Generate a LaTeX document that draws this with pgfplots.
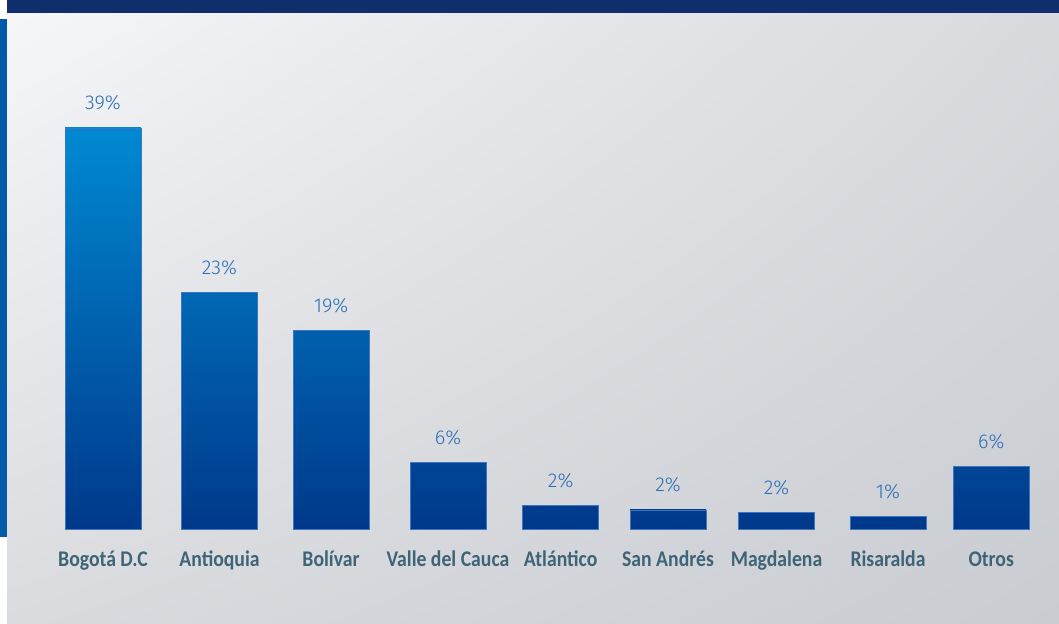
\documentclass[border=0pt]{standalone}
\usepackage{fontspec}
\setmainfont{Carlito}
\newfontfamily\catfont[FakeStretch=0.88]{Carlito}
\newfontfamily\valfont{Fira Sans Light}
\usepackage{pgfplots}
\pgfplotsset{compat=1.18}
\usetikzlibrary{shadings}
\definecolor{barlight}{HTML}{0089D2}
\definecolor{bardark}{HTML}{00388A}
\definecolor{navy}{HTML}{102E6B}
\definecolor{stripe}{HTML}{005AA8}
\definecolor{cat}{HTML}{3F6477}
\definecolor{val}{HTML}{2C6DB6}
\definecolor{edge}{HTML}{3D76BE}
\definecolor{bgUL}{HTML}{F6F7F9}
\definecolor{bgUR}{HTML}{D8DADE}
\definecolor{bgLL}{HTML}{D9DBDF}
\definecolor{bgLR}{HTML}{C9CCD1}
\pgfplotsset{
  mybar/.style={ybar, bar width=38pt, bar shift=0pt, draw=edge, line width=0.4pt,
    bottom color=bardark, top color=barlight!#1!bardark,
    nodes near coords, point meta=explicit symbolic,
    every node near coord/.append style={anchor=base, yshift=9pt, text=val,
      font=\valfont\fontsize{10}{12}\selectfont}}
}
\begin{document}
\begin{tikzpicture}[x=1pt,y=1pt]
\fill[white] (0,0) rectangle (529.5,312);
\shade[upper left=bgUL, upper right=bgUR, lower left=bgLL, lower right=bgLR] (3.5,0) rectangle (529.5,312);
\fill[stripe] (0,43.65) rectangle (3.5,302.5);
\fill[navy] (3.5,305.65) rectangle (529.5,312);
\begin{axis}[
  at={(0,0)}, anchor=south west, scale only axis,
  width=529.5pt, height=312pt,
  xmin=0, xmax=1059, ymin=-9.20, ymax=51.44,
  axis line style={draw=none}, tick style={draw=none},
  ytick=\empty, clip=false,
  xtick={103,219.5,331,448,560.7,668,776.5,888,991.2},
  xticklabels={Bogotá D.C,Antioquia,Bolívar,Valle del Cauca,Atlántico,San Andrés,Magdalena,Risaralda,Otros},
  xticklabel style={font=\catfont\bfseries\fontsize{11.2}{13}\selectfont, text=cat, anchor=base, yshift=28.5pt},
]
\addplot[mybar=100] coordinates {(103,39.0) [39\%]};
\addplot[mybar=59] coordinates {(219.5,23.06) [23\%]};
\addplot[mybar=50] coordinates {(331,19.34) [19\%]};
\addplot[mybar=17] coordinates {(448,6.54) [6\%]};
\addplot[mybar=6] coordinates {(560.7,2.36) [2\%]};
\addplot[mybar=5] coordinates {(668,1.88) [2\%]};
\addplot[mybar=4] coordinates {(776.5,1.61) [2\%]};
\addplot[mybar=3] coordinates {(888,1.29) [1\%]};
\addplot[mybar=16] coordinates {(991.2,6.08) [6\%]};
\end{axis}
\end{tikzpicture}
\end{document}
